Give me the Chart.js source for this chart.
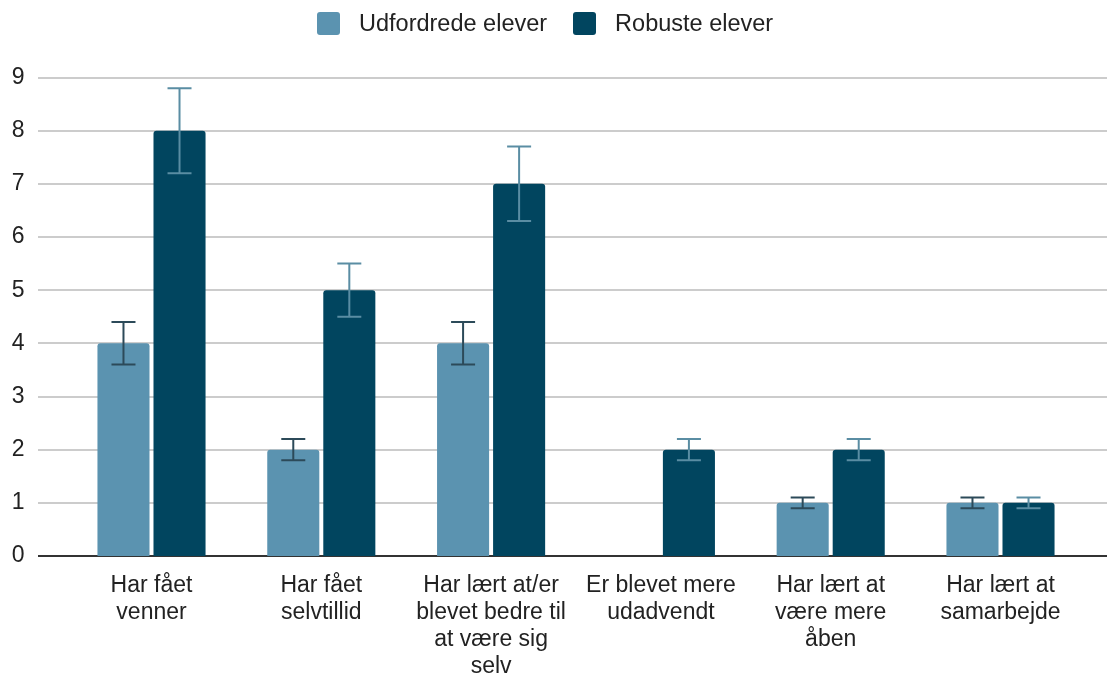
<!DOCTYPE html>
<html>
<head>
<meta charset="utf-8">
<script src="https://cdn.jsdelivr.net/npm/chart.js@4"></script>
<style>
html,body{margin:0;padding:0;background:#fff;}
#wrap{position:relative;width:1107px;height:676px;}
#legend{position:absolute;left:317px;top:10px;display:flex;align-items:center;font-family:"Liberation Sans",Arial,sans-serif;font-size:23.5px;color:#222;}
.item{display:flex;align-items:center;margin-right:26px;}
.box{width:23px;height:23px;border-radius:3px;margin-right:19px;}
canvas{position:absolute;left:0;top:0;}
</style>
</head>
<body>
<div id="wrap">
<canvas id="c" width="1107" height="676"></canvas>
<div id="legend"></div>
</div>
<script>
const categories = [
  ["Har fået","venner"],
  ["Har fået","selvtillid"],
  ["Har lært at/er","blevet bedre til","at være sig","selv"],
  ["Er blevet mere","udadvendt"],
  ["Har lært at","være mere","åben"],
  ["Har lært at","samarbejde"]
];
const seriesNames = ["Udfordrede elever","Robuste elever"];
const udfordrede = [4, 2, 4, 0, 1, 1];
const robuste = [8, 5, 7, 2, 2, 1];
const udfordredeErr = [0.4, 0.2, 0.4, 0, 0.1, 0.1];
const robusteErr = [0.8, 0.5, 0.7, 0.2, 0.2, 0.1];
const yTicks = [0,1,2,3,4,5,6,7,8,9];

const colors = ["#5b93b0","#01455f"];
const errColors = ["#2c4a59","#5a8da3"];
const FONT = "'Liberation Sans', Arial, sans-serif";

// HTML legend
const lg = document.getElementById('legend');
seriesNames.forEach((n,i)=>{
  const it = document.createElement('div'); it.className='item';
  const b = document.createElement('div'); b.className='box'; b.style.background=colors[i];
  const t = document.createElement('span'); t.textContent=n;
  it.appendChild(b); it.appendChild(t); lg.appendChild(it);
});

const gridPlugin = {
  id:'gridExt',
  beforeDatasetsDraw(chart){
    const ctx = chart.ctx, y = chart.scales.y;
    ctx.save();
    yTicks.forEach(v=>{
      const py = Math.round(y.getPixelForValue(v));
      ctx.beginPath();
      ctx.lineWidth = 2;
      ctx.strokeStyle = v===0 ? '#333333' : '#cccccc';
      ctx.moveTo(38, py); ctx.lineTo(1107, py);
      ctx.stroke();
    });
    ctx.restore();
  }
};

const errPlugin = {
  id:'errBars',
  afterDatasetsDraw(chart){
    const ctx = chart.ctx, y = chart.scales.y;
    const errs = [udfordredeErr, robusteErr];
    ctx.save();
    chart.data.datasets.forEach((ds,di)=>{
      const meta = chart.getDatasetMeta(di);
      meta.data.forEach((bar,i)=>{
        const v = ds.data[i], e = errs[di][i];
        if(!e) return;
        const x = bar.x;
        const top = y.getPixelForValue(v+e), bot = y.getPixelForValue(v-e);
        ctx.strokeStyle = errColors[di];
        ctx.lineWidth = 2;
        ctx.beginPath();
        ctx.moveTo(x, top); ctx.lineTo(x, bot);
        ctx.moveTo(x-12, top); ctx.lineTo(x+12, top);
        ctx.moveTo(x-12, bot); ctx.lineTo(x+12, bot);
        ctx.stroke();
      });
    });
    ctx.restore();
  }
};

new Chart(document.getElementById('c'), {
  type:'bar',
  data:{
    labels: categories,
    datasets:[
      {label:seriesNames[0], data:udfordrede, backgroundColor:colors[0], borderRadius:{topLeft:3,topRight:3}, borderSkipped:'bottom'},
      {label:seriesNames[1], data:robuste, backgroundColor:colors[1], borderRadius:{topLeft:3,topRight:3}, borderSkipped:'bottom'}
    ]
  },
  options:{
    responsive:false,
    animation:false,
    devicePixelRatio:1,
    datasets:{bar:{categoryPercentage:0.66, barPercentage:0.929}},
    layout:{padding:{left:0,right:21.6,top:77.5,bottom:0}},
    plugins:{legend:{display:false}, tooltip:{enabled:false}},
    scales:{
      x:{
        grid:{display:false, drawTicks:false},
        border:{display:false},
        ticks:{font:{family:FONT,size:23, lineHeight:1.174}, color:'#222', padding:16, maxRotation:0, autoSkip:false},
        afterFit(s){ s.height = 120; }
      },
      y:{
        min:0, max:9,
        grid:{display:false, drawTicks:false},
        border:{display:false},
        ticks:{stepSize:1, font:{family:FONT,size:23}, color:'#222', padding:42},
        afterFit(s){ s.width = 66.6; }
      }
    }
  },
  plugins:[gridPlugin, errPlugin]
});
</script>
</body>
</html>
